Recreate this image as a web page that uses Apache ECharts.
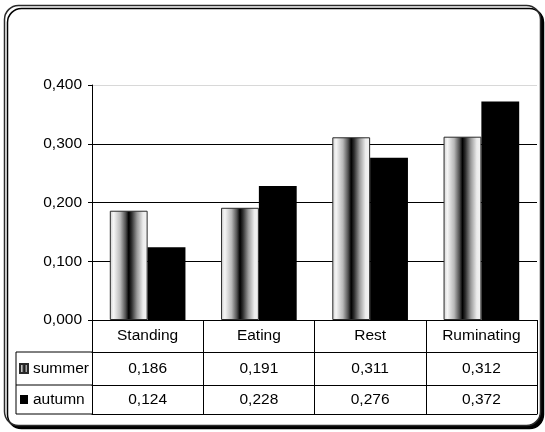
<!DOCTYPE html>
<html><head><meta charset="utf-8">
<script src="https://cdn.jsdelivr.net/npm/echarts@6/dist/echarts.min.js"></script>
<style>html,body{margin:0;padding:0;background:#fff}#c{width:545px;height:432px}</style>
</head><body><div id="c"></div>
<script>
const categories = ['Standing', 'Eating', 'Rest', 'Ruminating'];
const seriesNames = ['summer', 'autumn'];
const summer = [0.186, 0.191, 0.311, 0.312];
const autumn = [0.124, 0.228, 0.276, 0.372];
const yMin = 0, yMax = 0.4, yStep = 0.1;
const fmt = v => v.toFixed(3).replace('.', ',');

// layout
const W = 545, H = 432;
const G = { left: 92, right: 8, top: 85, bottom: 112 };
const axisY = H - G.bottom;            // y of category axis line
const rowOffsets = [32, 65, 94];       // table row lines below axis
const tableLeft = 16;
const FONT = "'Liberation Sans', Arial, sans-serif";

const chart = echarts.init(document.getElementById('c'), null, { renderer: 'canvas' });

const summerFill = new echarts.graphic.LinearGradient(0, 0, 1, 0, [
  { offset: 0, color: '#cfcfcf' },
  { offset: 0.1, color: '#f6f6f6' },
  { offset: 0.28, color: '#b8b8b8' },
  { offset: 0.42, color: '#505050' },
  { offset: 0.5, color: '#000000' },
  { offset: 0.58, color: '#303030' },
  { offset: 0.72, color: '#9a9a9a' },
  { offset: 0.88, color: '#ececec' },
  { offset: 1, color: '#f4f4f4' }
]);

const txt = { color: '#000', fontFamily: FONT, fontSize: 15.5 };

const tableLines = [];
rowOffsets.forEach(o => {
  tableLines.push({ type: 'line', z: 50, shape: { x1: tableLeft, y1: axisY + o, x2: G.left, y2: axisY + o },
    style: { stroke: '#000', lineWidth: 1 } });
});
tableLines.push({ type: 'line', z: 50, shape: { x1: tableLeft, y1: axisY + rowOffsets[0], x2: tableLeft, y2: axisY + rowOffsets[2] },
  style: { stroke: '#000', lineWidth: 1 } });

const option = {
  animation: false,
  backgroundColor: '#fff',
  textStyle: { fontFamily: FONT },
  grid: { left: G.left, right: G.right, top: G.top, bottom: G.bottom, containLabel: false },
  legend: {
    orient: 'vertical', left: 19, top: axisY + rowOffsets[0] + 8.5, padding: 0,
    itemWidth: 8, itemHeight: 9, itemGap: 15, icon: 'rect',
    textStyle: Object.assign({}, txt, { lineHeight: 16 }),
    data: seriesNames
  },
  graphic: [
    { type: 'rect', z: -100, shape: { x: 4.5, y: 5.5, width: 536, height: 420, r: 14 },
      style: { fill: '#fff', stroke: '#2a2a2a', lineWidth: 1.5, shadowColor: '#000', shadowOffsetX: 3, shadowOffsetY: 3, shadowBlur: 0 } },
    ...tableLines
  ],
  xAxis: [
    { type: 'category', data: categories, position: 'bottom',
      axisLine: { show: true, lineStyle: { color: '#000', width: 1 } },
      axisTick: { show: true, length: rowOffsets[2], lineStyle: { color: '#000', width: 1 } },
      axisLabel: Object.assign({ margin: 8 }, txt) },
    { type: 'category', data: categories, position: 'bottom', offset: rowOffsets[0],
      axisLine: { show: true, lineStyle: { color: '#000', width: 1 } },
      axisTick: { show: false },
      axisLabel: Object.assign({ margin: 9, formatter: (v, i) => fmt(summer[i]) }, txt) },
    { type: 'category', data: categories, position: 'bottom', offset: rowOffsets[1],
      axisLine: { show: true, lineStyle: { color: '#000', width: 1 } },
      axisTick: { show: false },
      axisLabel: Object.assign({ margin: 7, formatter: (v, i) => fmt(autumn[i]) }, txt) },
    { type: 'category', data: categories, position: 'bottom', offset: rowOffsets[2],
      axisLine: { show: true, lineStyle: { color: '#000', width: 1 } },
      axisTick: { show: false }, axisLabel: { show: false } }
  ],
  yAxis: {
    type: 'value', min: yMin, max: yMax, interval: yStep,
    axisLine: { show: true, lineStyle: { color: '#000', width: 1 } },
    axisTick: { show: true, length: 4, lineStyle: { color: '#000' } },
    axisLabel: Object.assign({ margin: 10, formatter: v => fmt(v) }, txt),
    splitLine: { show: true, lineStyle: { color: ['#000', '#000', '#000', '#000', '#d8d8d8'], width: 1 } }
  },
  series: [
    { name: seriesNames[0], type: 'bar', xAxisIndex: 0, data: summer,
      barCategoryGap: '32%', barGap: '0%',
      itemStyle: { color: summerFill, borderColor: '#2a2a2a', borderWidth: 1 } },
    { name: seriesNames[1], type: 'bar', xAxisIndex: 0, data: autumn,
      barCategoryGap: '32%', barGap: '0%',
      itemStyle: { color: '#000', borderColor: '#000', borderWidth: 0 } }
  ]
};
chart.setOption(option);
</script></body></html>
